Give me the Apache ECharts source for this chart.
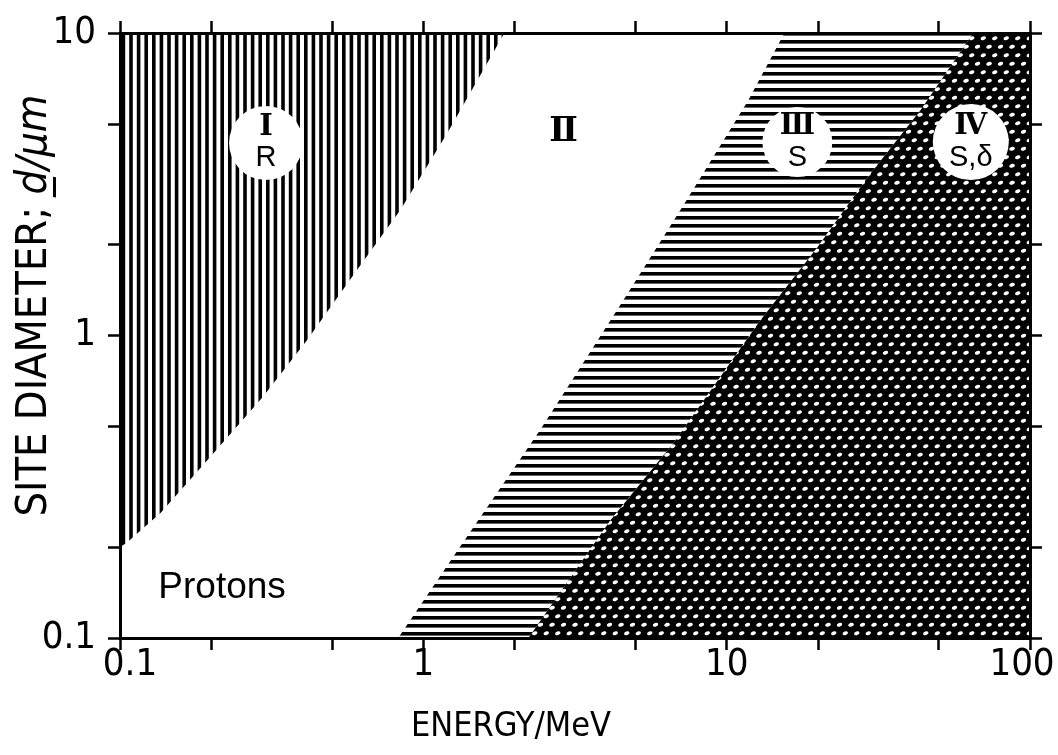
<!DOCTYPE html>
<html><head><meta charset="utf-8">
<script src="https://cdn.jsdelivr.net/npm/echarts@6/dist/echarts.min.js"></script>
<style>html,body{margin:0;padding:0;background:#fff}#c{width:1058px;height:755px}</style>
</head><body><div id="c"></div>
<script>
// ---- axis ticks / labels ----
const xTicks = [0.1, 0.2, 0.5, 1, 2, 5, 10, 20, 50, 100];
const xLabels = [0.1, 1, 10, 100];
const yTicks = [0.1, 0.2, 0.5, 1, 2, 5, 10];
const yLabels = [0.1, 1, 10];

// ---- boundary I / II (energy MeV, site diameter um) ----
const bndI_E = [0.1, 0.105, 0.136, 0.198, 0.296, 0.414, 0.605, 0.84, 1.20, 1.85];
const bndI_d = [0.2, 0.206, 0.259, 0.396, 0.627, 0.966, 1.65, 2.6, 4.67, 10];
// ---- boundary II / III ----
const bndII_E = [0.826, 1.32, 2.43, 4.57, 7.21, 11.8, 15.5];
const bndII_d = [0.1, 0.2, 0.488, 1.31, 2.7, 6.0, 10];
// ---- boundary III / IV ----
const bndIII_E = [2.22, 4.14, 6.68, 12.9, 19.95, 29.2, 43.6, 65];
const bndIII_d = [0.1, 0.245, 0.441, 1.12, 1.96, 3.34, 5.56, 10];

// ---- region labels ----
const circleE = [0.303, 17.1, 63.8];
const circleD = [4.33, 4.36, 4.36];
const circleNum = ['Ⅰ', 'Ⅲ', 'Ⅳ'];
const circleSub = ['R', 'S', 'S,δ'];
const textE = [2.9, 0.217];
const textD = [4.7, 0.146];
const textLabels = ['{n|Ⅱ}', '{p|Protons}'];

const pts = (E, d) => E.map((e, i) => [e, d[i]]);
const regions = [
  [[0.1, 10]].concat(pts(bndI_E, bndI_d)),
  pts(bndII_E, bndII_d).concat(pts(bndIII_E, bndIII_d).reverse()),
  pts(bndIII_E, bndIII_d).concat([[100, 10], [100, 0.1]])
];

function vPattern() {
  const c = document.createElement('canvas'); c.width = 38; c.height = 8;
  const g = c.getContext('2d'); g.fillStyle = '#fff'; g.fillRect(0, 0, 38, 8);
  g.fillStyle = '#000';
  for (let i = 0; i < 5; i++) g.fillRect(i * 7.6, 0, 3.6, 8);
  return c;
}
function hPattern() {
  const c = document.createElement('canvas'); c.width = 8; c.height = 8;
  const g = c.getContext('2d'); g.fillStyle = '#fff'; g.fillRect(0, 0, 8, 8);
  g.fillStyle = '#000'; g.fillRect(0, 0, 8, 3.6);
  return c;
}
function dPattern() {
  const W = 23, H = 17;
  const c = document.createElement('canvas'); c.width = W; c.height = H;
  const g = c.getContext('2d'); g.fillStyle = '#000'; g.fillRect(0, 0, W, H);
  g.fillStyle = '#fff';
  const centers = [[5.75, 4.25], [17.25, 4.25], [0, 12.75], [11.5, 12.75]];
  for (const [cx, cy] of centers) {
    for (const ox of [-W, 0, W]) for (const oy of [-H, 0, H]) {
      g.beginPath(); g.ellipse(cx + ox, cy + oy, 2.8, 1.9, -0.35, 0, Math.PI * 2); g.fill();
    }
  }
  return c;
}
const fills = [
  { image: vPattern(), repeat: 'repeat' },
  { image: hPattern(), repeat: 'repeat' },
  { image: dPattern(), repeat: 'repeat' }
];

const NARROW = '"Liberation Sans Narrow", "DejaVu Sans Condensed", "Roboto Condensed", "Liberation Sans", sans-serif';
const SERIF_B = '"DejaVu Serif", "Liberation Serif", serif';
const lineStyle = { color: '#000', width: 3 };
function mkX(pos, showLabel, name) {
  return {
    type: 'log', logBase: 10, min: 0.1, max: 100, position: pos, z: 10,
    axisLine: { show: true, lineStyle },
    axisTick: { show: true, customValues: xTicks, length: 12, lineStyle: { color: '#000', width: 2.5 } },
    axisLabel: { show: showLabel, customValues: xLabels,
      formatter: v => v === 100 ? '{r|100}' : (v < 0.5 ? '{l|0.1}' : String(v)),
      rich: {
        r: { fontSize: 38, fontFamily: NARROW, color: '#000', padding: [0, 16, 0, 0] },
        l: { fontSize: 38, fontFamily: NARROW, color: '#000', padding: [0, 0, 0, 20] }
      },
      fontSize: 38, fontFamily: NARROW, color: '#000', margin: 8 },
    splitLine: { show: false }, minorTick: { show: false },
    name: name || '', nameLocation: 'middle', nameGap: 72,
    nameTextStyle: { fontSize: 34, fontFamily: NARROW, color: '#000', padding: [0, 128, 0, 0] }
  };
}
function mkY(pos, showLabel, name) {
  return {
    type: 'log', logBase: 10, min: 0.1, max: 10, position: pos, z: 10,
    axisLine: { show: true, lineStyle },
    axisTick: { show: true, customValues: yTicks, length: 12, lineStyle: { color: '#000', width: 2.5 } },
    axisLabel: { show: showLabel, customValues: yLabels, formatter: v => String(v), fontSize: 38,
      fontFamily: NARROW, color: '#000', margin: 24 },
    splitLine: { show: false }, minorTick: { show: false },
    name: name || '', nameLocation: 'middle', nameGap: 64, nameMoveOverlap: false,
    nameTextStyle: { fontSize: 43, fontFamily: NARROW, color: '#000', padding: [0, 0, 0, 60],
      rich: { d: { fontSize: 43, fontFamily: NARROW, fontStyle: 'italic', color: '#000' } } }
  };
}

const chart = echarts.init(document.getElementById('c'), null, { renderer: 'canvas' });
chart.setOption({
  animation: false,
  backgroundColor: '#fff',
  grid: { left: 120, right: 28, top: 33, bottom: 117, containLabel: false, outerBoundsMode: 'none' },
  xAxis: [mkX('bottom', true, 'ENERGY/MeV'), mkX('top', false)],
  yAxis: [mkY('left', true, 'SITE DIAMETER; {d|d\u0332/μm}'), mkY('right', false)],
  series: [
    {
      type: 'custom', xAxisIndex: 0, yAxisIndex: 0, z: 1,
      data: [0, 1, 2],
      renderItem: (params, api) => {
        const idx = api.value(0);
        return {
          type: 'polygon',
          shape: { points: regions[idx].map(p => api.coord(p)) },
          style: { fill: fills[idx], stroke: null }
        };
      }
    },
    {
      type: 'scatter', xAxisIndex: 0, yAxisIndex: 0, z: 3, symbol: 'circle',
      data: circleE.map((e, i) => ({ value: [e, circleD[i]], symbolSize: [74, 70, 76][i] })),
      itemStyle: { color: '#fff', opacity: 1 },
      label: {
        show: true, position: 'inside', color: '#000',
        formatter: p => '{n|' + circleNum[p.dataIndex] + '}\n{s|' + circleSub[p.dataIndex] + '}',
        rich: {
          n: { fontSize: 29, fontFamily: SERIF_B, fontWeight: 'bold', color: '#000', lineHeight: 31 },
          s: { fontSize: 29, fontFamily: '"Liberation Sans", sans-serif', color: '#000', lineHeight: 31 }
        }
      },
      emphasis: { disabled: true }
    },
    {
      type: 'scatter', xAxisIndex: 0, yAxisIndex: 0, z: 3, symbolSize: 1,
      data: textE.map((e, i) => [e, textD[i]]),
      itemStyle: { color: 'rgba(255,255,255,0)', opacity: 1 },
      label: {
        show: true, position: 'inside', color: '#000', textBorderWidth: 0,
        formatter: p => textLabels[p.dataIndex],
        rich: {
          n: { fontSize: 34, fontFamily: SERIF_B, fontWeight: 'bold', color: '#000', textBorderWidth: 0 },
          p: { fontSize: 37, fontFamily: '"Liberation Sans", sans-serif', color: '#000', textBorderWidth: 0 }
        }
      },
      labelLayout: { hideOverlap: false },
      emphasis: { disabled: true }
    }
  ]
});
</script></body></html>
